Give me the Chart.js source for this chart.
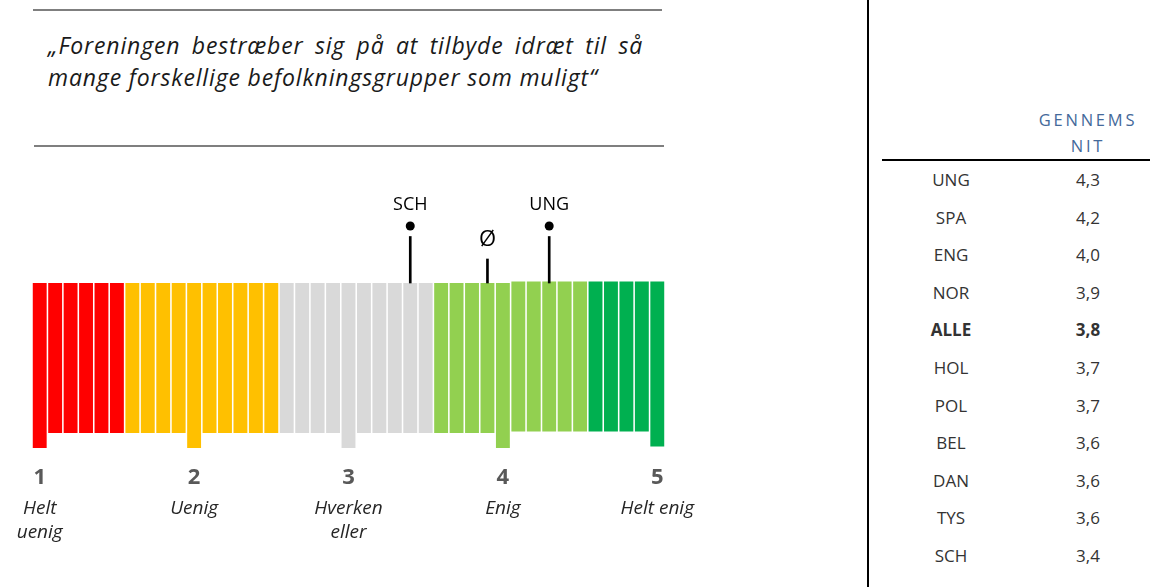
<!DOCTYPE html>
<html>
<head>
<meta charset="utf-8">
<script src="https://cdn.jsdelivr.net/npm/chart.js@4"></script>
<style>
    body { margin: 0; width: 1150px; height: 587px; background: #fff; overflow: hidden; position: relative; font-family: "Open Sans", sans-serif; }
    .rule { position: absolute; height: 2px; background: #7f7f7f; }
    .quote { position: absolute; left: 48px; width: 595px; font-style: italic; font-size: 23px; letter-spacing: 0.85px; line-height: 30px; color: #1a1a1a; white-space: nowrap; }
    #line1 { top: 30px; text-align: justify; text-align-last: justify; white-space: normal; }
    #line2 { top: 62px; }
    #chart-wrap { position: absolute; left: 12px; top: 180px; }
    #vline { position: absolute; left: 867px; top: 0; width: 2px; height: 587px; background: #000; }
    #hline { position: absolute; left: 882px; top: 159px; width: 268px; height: 2px; background: #000; }
    .head { position: absolute; left: 1026px; width: 124px; text-align: center; font-size: 16.5px; letter-spacing: 2.8px; color: #44699a; line-height: 20px; }
    .cell { position: absolute; width: 100px; text-align: center; font-size: 17px; line-height: 20px; color: #333; }
</style>
</head>
<body>
<div class="rule" style="left:33px; top:9px; width:629px;"></div>
<div class="quote" id="line1">„Foreningen bestræber sig på at tilbyde idræt til så</div>
<div class="quote" id="line2">mange forskellige befolkningsgrupper som muligt“</div>
<div class="rule" style="left:34px; top:145px; width:630px;"></div>

<div id="chart-wrap"><canvas id="scale-chart" width="693" height="377"></canvas></div>

<div id="vline"></div>
<div class="head" style="top:110px;">GENNEMS</div>
<div class="head" style="top:136px;">NIT</div>
<div id="hline"></div>
<div id="table-rows"></div>

<script>
// Scale steps (1 = helt uenig ... 5 = helt enig)
const scaleSteps = [1.0, 1.1, 1.2, 1.3, 1.4, 1.5, 1.6, 1.7, 1.8, 1.9,
    2.0, 2.1, 2.2, 2.3, 2.4, 2.5, 2.6, 2.7, 2.8, 2.9,
    3.0, 3.1, 3.2, 3.3, 3.4, 3.5, 3.6, 3.7, 3.8, 3.9,
    4.0, 4.1, 4.2, 4.3, 4.4, 4.5, 4.6, 4.7, 4.8, 4.9, 5.0];
const barLow = [-1, 0, 0, 0, 0, 0, 0, 0, 0, 0,
    -1, 0, 0, 0, 0, 0, 0, 0, 0, 0,
    -1, 0, 0, 0, 0, 0, 0, 0, 0, 0,
    -1, 0.1, 0.1, 0.1, 0.1, 0.1, 0.1, 0.1, 0.1, 0.1, -0.9];
const barHigh = [10, 10, 10, 10, 10, 10, 10, 10, 10, 10,
    10, 10, 10, 10, 10, 10, 10, 10, 10, 10,
    10, 10, 10, 10, 10, 10, 10, 10, 10, 10,
    10, 10.1, 10.1, 10.1, 10.1, 10.1, 10.1, 10.1, 10.1, 10.1, 10.1];

// Tick labels
const tickValues = [1, 2, 3, 4, 5];
const tickNumbers = ['1', '2', '3', '4', '5'];
const tickTexts = [['Helt', 'uenig'], 'Uenig', ['Hverken', 'eller'], 'Enig', 'Helt enig'];

// Markers above the scale
const markerLabels = ['SCH', 'Ø', 'UNG'];
const markerValues = [3.4, 3.9, 4.3];

// Table
const tableCodes = ['UNG', 'SPA', 'ENG', 'NOR', 'ALLE', 'HOL', 'POL', 'BEL', 'DAN', 'TYS', 'SCH'];
const tableMeans = [4.3, 4.2, 4.0, 3.9, 3.8, 3.7, 3.7, 3.6, 3.6, 3.6, 3.4];

function colorFor(v) {
    if (v <= 1.55) return '#ff0000';
    if (v <= 2.55) return '#ffc000';
    if (v <= 3.55) return '#d9d9d9';
    if (v <= 4.55) return '#92d050';
    return '#00b050';
}

const isAvg = label => label === 'Ø';

// Draws marker names above the stems
const markerText = {
    id: 'markerText',
    afterDatasetsDraw(chart) {
        const { ctx, scales: { x, y } } = chart;
        ctx.save();
        ctx.fillStyle = '#000';
        ctx.textAlign = 'center';
        ctx.textBaseline = 'middle';
        markerLabels.forEach((label, i) => {
            ctx.font = isAvg(label) ? '22px "Open Sans"' : '18px "Open Sans"';
            ctx.fillText(label, x.getPixelForValue(markerValues[i]), y.getPixelForValue(isAvg(label) ? 12.9 : 15.2));
        });
        ctx.restore();
    }
};

const setTicks = axis => { axis.ticks = tickValues.map(v => ({ value: v })); };

new Chart(document.getElementById('scale-chart'), {
    type: 'bar',
    data: {
        datasets: [{
            data: scaleSteps.map((s, i) => ({ x: s, y: [barLow[i], barHigh[i]] })),
            backgroundColor: ctx => colorFor(scaleSteps[ctx.dataIndex]),
            borderWidth: 0,
            grouped: false,
            barPercentage: 0.9,
            categoryPercentage: 1,
            order: 2
        }, {
            data: markerValues.map((v, i) => ({ x: v, y: [10, isAvg(markerLabels[i]) ? 11.6 : 13.1] })),
            backgroundColor: '#000',
            borderWidth: 0,
            grouped: false,
            barThickness: 2,
            order: 1
        }, {
            type: 'scatter',
            data: markerValues.map(v => ({ x: v, y: 13.8 })),
            pointRadius: markerLabels.map(l => isAvg(l) ? 0 : 4.5),
            pointBackgroundColor: '#000',
            pointBorderWidth: 0,
            order: 0
        }]
    },
    options: {
        responsive: false,
        animation: false,
        layout: { padding: { left: 20, right: 40, top: 13, bottom: 10 } },
        plugins: { legend: { display: false }, tooltip: { enabled: false } },
        scales: {
            x: {
                type: 'linear',
                min: 0.95,
                max: 5.05,
                offset: false,
                weight: 0,
                afterBuildTicks: setTicks,
                afterFit: axis => { axis.height = 46; },
                grid: { display: false, drawTicks: false, offset: false },
                border: { display: false },
                ticks: {
                    autoSkip: false,
                    maxRotation: 0,
                    padding: 16,
                    color: '#595959',
                    font: { family: 'Open Sans', size: 22, weight: 'bold', lineHeight: 1.0 },
                    callback: (v, i) => tickNumbers[i]
                }
            },
            x2: {
                type: 'linear',
                position: 'bottom',
                min: 0.95,
                max: 5.05,
                offset: false,
                weight: 1,
                afterBuildTicks: setTicks,
                afterFit: axis => { axis.height = 50; },
                grid: { display: false, drawTicks: false },
                border: { display: false },
                ticks: {
                    autoSkip: false,
                    maxRotation: 0,
                    padding: 0,
                    color: '#262626',
                    font: { family: 'Open Sans', size: 19, style: 'italic', lineHeight: 1.26 },
                    callback: (v, i) => tickTexts[i]
                }
            },
            y: { display: false, min: -1.2, max: 16 }
        }
    },
    plugins: [markerText]
});

// Table rows
const rows = document.getElementById('table-rows');
tableCodes.forEach((code, i) => {
    const top = 170 + i * 37.6;
    const weight = code === 'ALLE' ? 'bold' : 'normal';
    rows.innerHTML += `<div class="cell" style="left:901px; top:${top}px; font-weight:${weight}">${code}</div>` +
        `<div class="cell" style="left:1038px; top:${top}px; font-weight:${weight}">${tableMeans[i].toFixed(1).replace('.', ',')}</div>`;
});
</script>
</body>
</html>
